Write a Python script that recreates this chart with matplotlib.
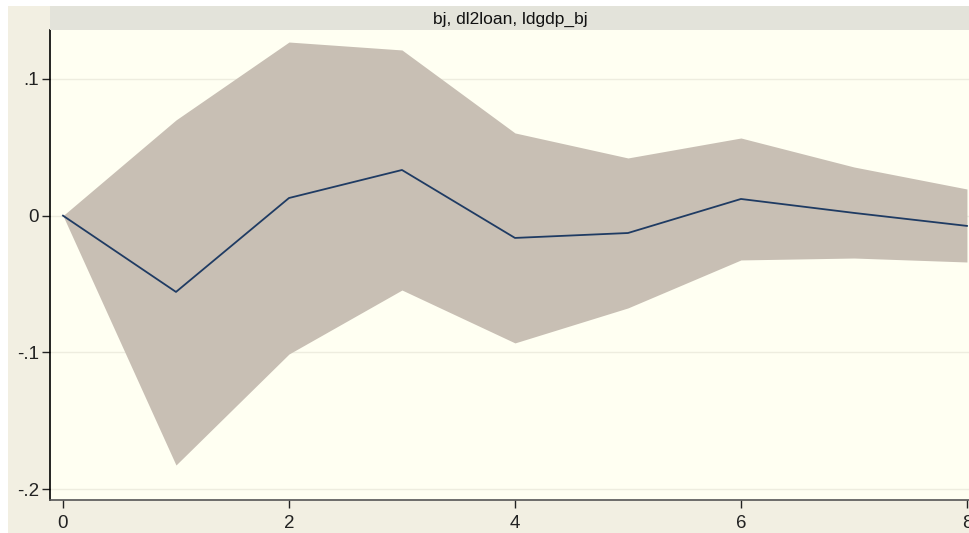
import matplotlib.pyplot as plt
from matplotlib.patches import Rectangle

# impulse response: step, irf, lower/upper confidence bounds
steps = [0, 1, 2, 3, 4, 5, 6, 7, 8]
irf = [0.0, -0.0558, 0.0129, 0.0334, -0.0163, -0.0127, 0.0122, 0.0020, -0.0075]
lower = [0.0, -0.1824, -0.1012, -0.0544, -0.0931, -0.0675, -0.0324, -0.0310, -0.0339]
upper = [0.0, 0.0700, 0.1270, 0.1212, 0.0605, 0.0422, 0.0568, 0.0356, 0.0195]

yticks = [-0.2, -0.1, 0.0, 0.1]
ytick_labels = ["-.2", "-.1", "0", ".1"]
xticks = [0, 2, 4, 6, 8]
panel_title = "bj, dl2loan, ldgdp_bj"

plt.rcParams["font.family"] = ["Liberation Sans", "DejaVu Sans"]

fig = plt.figure(figsize=(9.7, 5.33), dpi=100, facecolor="white")
fig.patches.append(Rectangle((8 / 970, 0), 1, 1 - 6 / 533, transform=fig.transFigure,
                             facecolor="#f2efe2", edgecolor="none", zorder=-10))

ax = fig.add_axes([50 / 970, 33 / 533, 920 / 970, 470 / 533])
ax.set_facecolor("#fffff2")

ax.fill_between(steps, lower, upper, color="#c8bfb4", linewidth=0, zorder=2)
ax.plot(steps, irf, color="#1f3b63", linewidth=1.3, zorder=3)

ax.set_xlim(-0.115, 8.027)
ax.set_ylim(-0.208, 0.1358)
ax.set_yticks(yticks)
ax.set_yticklabels(ytick_labels)
ax.set_xticks(xticks)
ax.grid(axis="y", color="#eeeddf", linewidth=1, zorder=1)
ax.set_axisbelow(True)

for side in ["top", "right"]:
    ax.spines[side].set_visible(False)
ax.spines["left"].set_color("black")
ax.spines["bottom"].set_color("#555555")
ax.spines["left"].set_linewidth(1.2)
ax.spines["bottom"].set_linewidth(1.2)
ax.tick_params(axis="both", direction="out", length=6, width=1, labelsize=13.5,
               colors="#222222")
ax.tick_params(axis="x", pad=5)
ax.tick_params(axis="y", pad=2)

# header strip above the panel
strip = fig.add_axes([50 / 970, 503 / 533, 920 / 970, 24 / 533])
strip.set_facecolor("#e3e3da")
strip.set_xticks([])
strip.set_yticks([])
for s in strip.spines.values():
    s.set_visible(False)
strip.text(0.5, 0.45, panel_title, ha="center", va="center", fontsize=12.5,
           color="#111111", transform=strip.transAxes)

fig.savefig("out.png", dpi=100, facecolor=fig.get_facecolor())
